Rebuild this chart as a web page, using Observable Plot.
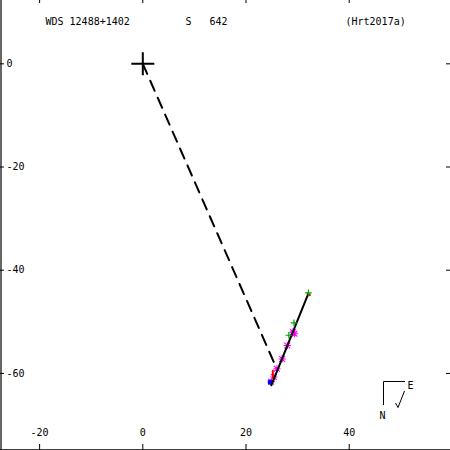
<!DOCTYPE html>
<html>
<head>
<meta charset="utf-8">
<script src="https://cdn.jsdelivr.net/npm/d3@7"></script>
<script src="https://cdn.jsdelivr.net/npm/@observablehq/plot@0.6"></script>
<style>
  html, body { margin: 0; padding: 0; background: #fff; }
  #chart svg { display: block; }
</style>
</head>
<body>
<div id="chart"></div>
<script>
// ---- data ----
const xTicks = [-20, 0, 20, 40];
const yTicks = [0, -20, -40, -60];
const titleLeft = "WDS 12488+1402";
const titleMid = "S   642";
const titleRight = "(Hrt2017a)";
const compassLabels = ["E", "N"];

const primaryX = [0];
const primaryY = [0];

// dashed line: primary to periastron-ish point
const dashX = [0, 26.0];
const dashY = [0, -59.2];

// orbit arc
const orbitX = [32.1, 28.5, 24.9];
const orbitY = [-44.5, -53.4, -62.3];

// green plus observations
const plusX = [32.1, 29.3, 28.3];
const plusY = [-44.4, -50.2, -52.6];

// magenta asterisk observations
const starX = [29.1, 29.4, 28.0, 27.0, 26.0, 25.4, 24.9];
const starY = [-52.0, -52.3, -54.6, -57.2, -59.1, -60.7, -61.6];

// blue observation
const blueX = [24.7];
const blueY = [-61.7];

// red residual segments
const resX1 = [25.2, 32.3];
const resY1 = [-59.3, -44.6];
const resX2 = [25.2, 32.4];
const resY2 = [-61.0, -45.0];

const xDomain = [-27.58, 59.63];
const yDomain = [-74.94, 12.27];

// ---- symbols ----
const thinPlus = {
  draw(ctx, size) {
    const r = Math.sqrt(size / Math.PI);
    ctx.moveTo(-r, 0); ctx.lineTo(r, 0);
    ctx.moveTo(0, -r); ctx.lineTo(0, r);
  }
};
const thinStar = {
  draw(ctx, size) {
    const r = Math.sqrt(size / Math.PI);
    const d = r * 0.8;
    ctx.moveTo(-r, 0); ctx.lineTo(r, 0);
    ctx.moveTo(0, -r); ctx.lineTo(0, r);
    ctx.moveTo(-d, -d); ctx.lineTo(d, d);
    ctx.moveTo(-d, d); ctx.lineTo(d, -d);
  }
};

const dashData = dashX.map((x, i) => ({x, y: dashY[i]}));
const orbitData = orbitX.map((x, i) => ({x, y: orbitY[i]}));
const plusData = plusX.map((x, i) => ({x, y: plusY[i]}));
const starData = starX.map((x, i) => ({x, y: starY[i]}));
const blueData = blueX.map((x, i) => ({x, y: blueY[i]}));
const resData = resX1.map((x1, i) => ({x1, y1: resY1[i], x2: resX2[i], y2: resY2[i]}));
const primData = primaryX.map((x, i) => ({x, y: primaryY[i]}));

const font = "DejaVu Sans Mono, monospace";

const chart = Plot.plot({
  width: 450,
  height: 450,
  margin: 0,
  x: {domain: xDomain, axis: null},
  y: {domain: yDomain, axis: null},
  style: {fontFamily: font, fontSize: "10px", color: "#000", background: "#fff"},
  marks: [
    // frame lines (left & bottom)
    Plot.ruleX([xDomain[0]], {dx: 0.5, stroke: "#000", strokeWidth: 1.2}),
    Plot.ruleY([yDomain[0]], {dy: -0.6, stroke: "#000", strokeWidth: 1.4}),
    // ticks
    Plot.tickX(xTicks, {x: d => d, insetTop: 444, stroke: "#000"}),
    Plot.tickX(xTicks, {x: d => d, insetBottom: 447, stroke: "#000"}),
    Plot.tickY(yTicks, {y: d => d, insetRight: 446, stroke: "#000"}),
    Plot.tickY(yTicks, {y: d => d, insetLeft: 446, stroke: "#000"}),
    // tick labels
    Plot.text(xTicks, {x: d => d, frameAnchor: "bottom", dy: -15, text: d => String(d), fill: "#000"}),
    Plot.text(yTicks, {y: d => d, frameAnchor: "left", dx: 6, textAnchor: "start", text: d => String(d), fill: "#000"}),
    // titles
    Plot.text([titleLeft], {frameAnchor: "top-left", dx: 45, dy: 17, textAnchor: "start", text: d => d, fill: "#000"}),
    Plot.text([titleMid], {frameAnchor: "top-left", dx: 185, dy: 17, textAnchor: "start", text: d => d, fill: "#000"}),
    Plot.text([titleRight], {frameAnchor: "top-left", dx: 345, dy: 17, textAnchor: "start", text: d => d, fill: "#000"}),
    // compass labels
    Plot.text([compassLabels[0]], {frameAnchor: "top-left", dx: 407, dy: 381.5, textAnchor: "start", text: d => d, fill: "#000"}),
    Plot.text([compassLabels[1]], {frameAnchor: "top-left", dx: 379, dy: 411.5, textAnchor: "start", text: d => d, fill: "#000"}),
    // dashed line
    Plot.line(dashData, {x: "x", y: "y", stroke: "#000", strokeWidth: 2, strokeDasharray: "11,7.5"}),
    // observations
    Plot.dot(starData, {x: "x", y: "y", symbol: thinStar, r: 3.6, stroke: "#ff00ff", strokeWidth: 1.1}),
    Plot.dot(blueData, {x: "x", y: "y", symbol: thinStar, r: 2.5, stroke: "#0000ff", strokeWidth: 1.6}),
    Plot.link(resData, {x1: "x1", y1: "y1", x2: "x2", y2: "y2", stroke: "#ff0000", strokeWidth: 2}),
    // orbit
    Plot.line(orbitData, {x: "x", y: "y", stroke: "#000", strokeWidth: 2}),
    Plot.dot(plusData, {x: "x", y: "y", symbol: thinPlus, r: 3.3, stroke: "#00a000", strokeWidth: 1.2}),
    // primary
    Plot.dot(primData, {x: "x", y: "y", symbol: thinPlus, r: 11.5, stroke: "#000", strokeWidth: 2})
  ]
});

// compass lines (fixed-position annotation)
const svg = d3.select(chart);
const g = svg.append("g").attr("fill", "none").attr("stroke", "#000").attr("stroke-width", 1);
g.append("path").attr("d", "M405,381.5H383.5V405");
g.append("path").attr("d", "M404.5,391L398,407.5L395.5,403");

document.getElementById("chart").appendChild(chart);
</script>
</body>
</html>
